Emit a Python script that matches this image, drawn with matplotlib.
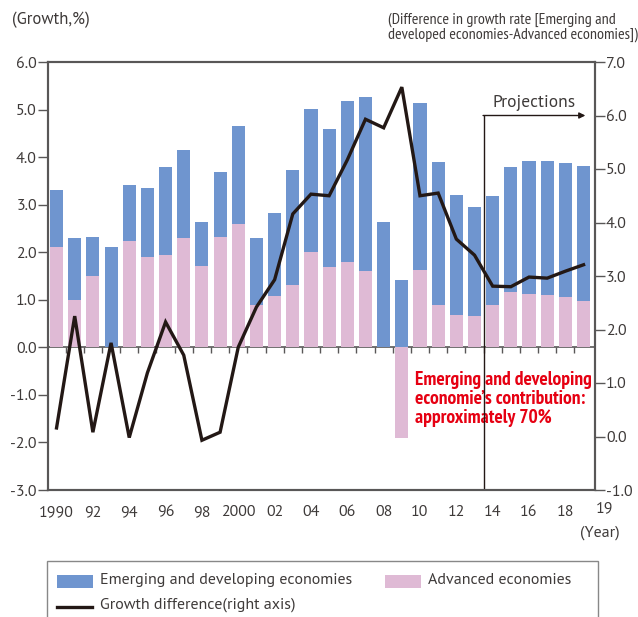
import numpy as np
import matplotlib
matplotlib.use("Agg")
import matplotlib.pyplot as plt
from matplotlib.patches import Rectangle
from matplotlib.lines import Line2D
from matplotlib.ticker import FixedLocator, NullFormatter

plt.rcParams['font.family'] = ['PT Sans', 'DejaVu Sans']

# contribution to world growth (%), left axis
years = list(range(1990, 2020))
advanced = [2.12, 0.99, 1.49, 0.0, 2.23, 1.89, 1.95, 2.29, 1.70, 2.31,
            2.60, 0.88, 1.07, 1.32, 2.00, 1.68, 1.79, 1.60, 0.0, -1.91,
            1.62, 0.90, 0.69, 0.65, 0.88, 1.16, 1.13, 1.11, 1.05, 0.97]
emerging = [1.18, 1.30, 0.84, 2.12, 1.19, 1.45, 1.85, 1.85, 0.93, 1.37,
            2.06, 1.41, 1.75, 2.40, 3.02, 2.92, 3.40, 3.67, 2.63, 1.41,
            3.51, 2.99, 2.52, 2.31, 2.31, 2.64, 2.78, 2.80, 2.82, 2.85]
# growth difference (right axis)
diff = [0.16, 2.25, 0.08, 1.75, -0.02, 1.19, 2.14, 1.52, -0.07, 0.08,
        1.67, 2.42, 2.93, 4.16, 4.53, 4.50, 5.17, 5.93, 5.77, 6.53,
        4.50, 4.55, 3.69, 3.39, 2.81, 2.80, 2.98, 2.96, 3.09, 3.21]

xlabels = ['1990', '92', '94', '96', '98', '2000', '02', '04', '06', '08',
           '10', '12', '14', '16', '18']
proj_start = 2014

BLUE = '#6f95cf'
PINK = '#dfbad5'
AXC = '#595757'
TXT = '#3e3a39'
RED = '#e60012'
NARROW = ['PT Sans Narrow', 'Roboto Condensed', 'DejaVu Sans']
FS = 11.5

W, H = 638, 617
fig = plt.figure(figsize=(W / 100, H / 100), dpi=100)


def px(x, y):
    return x / W, 1 - y / H


ax = fig.add_axes([48 / W, (H - 490) / H, 547 / W, 428 / H])
ax2 = ax.twinx()

bottoms = np.maximum(np.array(advanced), 0)
ax.bar(years, advanced, width=0.72, color=PINK, zorder=2)
ax.bar(years, emerging, bottom=bottoms, width=0.72, color=BLUE, zorder=2)

ax.set_xlim(1989.53, 2019.63)
ax.set_ylim(-3, 6)
ax.set_yticks(np.arange(-3, 6.1, 1))
ax.set_yticklabels(['%.1f' % v for v in np.arange(-3, 6.1, 1)])
ax.set_xticks(years[::2])
ax.set_xticklabels(xlabels)
ax.tick_params(axis='x', length=0, pad=11, labelsize=FS, colors=TXT)
ax.tick_params(axis='y', length=7, width=1, pad=1, labelsize=FS,
               colors=AXC, labelcolor=TXT, direction='out')
ax.text(2020.15, -0.026, '19', transform=ax.get_xaxis_transform(),
        ha='center', va='top', fontsize=FS, color=TXT)
ax.text(2019.9, -0.083, '(Year)', transform=ax.get_xaxis_transform(),
        ha='center', va='top', fontsize=FS, color=TXT)

# zero line with bar-boundary ticks
zero = ax.secondary_xaxis((0 - (-3)) / 9)
zero.xaxis.set_major_locator(FixedLocator([y + 0.5 for y in years[:-1]]))
zero.xaxis.set_major_formatter(NullFormatter())
zero.tick_params(axis='x', length=4, width=1, colors=AXC, direction='out')
zero.spines['bottom'].set_color(AXC)
zero.spines['bottom'].set_linewidth(1.2)

for a in (ax, ax2):
    for s in a.spines.values():
        s.set_color(AXC)
        s.set_linewidth(1.5)

ax2.plot(years, diff, color='#231815', lw=2.4, zorder=5,
         solid_joinstyle='miter')
ax2.set_ylim(-1, 7)
ax2.set_yticks(np.arange(-1, 7.1, 1))
ax2.set_yticklabels(['%.1f' % v for v in np.arange(-1, 7.1, 1)])
ax2.tick_params(axis='y', length=7, width=1, pad=1, labelsize=FS,
                colors=AXC, labelcolor=TXT, direction='out')

# projections marker
xp = proj_start - 0.5
ax2.plot([xp, xp], [-1, 6.0], color='#231815', lw=1)
ax2.annotate('', xy=(2019.1, 6.0), xytext=(xp - 0.03, 6.0),
             arrowprops=dict(arrowstyle='-|>', color='#231815', lw=1,
                             mutation_scale=9, shrinkA=0, shrinkB=0))
ax2.text(2016.3, 6.23, 'Projections', ha='center', va='center',
         fontsize=12.5, color=TXT)

ax.text(2009.72, -0.5, 'Emerging and developing\neconomie\u2019s contribution:\napproximately 70%',
        ha='left', va='top', fontsize=14, color=RED, fontweight='bold',
        family=NARROW, linespacing=1.08, zorder=6)

fig.text(*px(12, 20), '(Growth,%)', ha='left', va='center', fontsize=FS + 0.5,
         color=TXT)
fig.text(*px(388, 27), '(Difference in growth rate [Emerging and\ndeveloped economies-Advanced economies])',
         ha='left', va='center', fontsize=11.5, color=TXT, family=NARROW,
         linespacing=1.08)

# legend box
x0, y0 = px(47, 561)
fig.patches.append(Rectangle((x0, y0 - 0.2), 551 / W, 0.2, transform=fig.transFigure,
                             fill=False, edgecolor='#888888', lw=1))
for xl, col, label in [(57, BLUE, 'Emerging and developing economies'),
                       (385, PINK, 'Advanced economies')]:
    bx, by = px(xl, 588)
    fig.patches.append(Rectangle((bx, by), 36 / W, 13 / H, transform=fig.transFigure,
                                 facecolor=col, edgecolor='none'))
    fig.text(*px(xl + 43, 580), label, ha='left', va='center', fontsize=FS,
             color=TXT)
lx0, ly = px(57, 607)
lx1, _ = px(92, 607)
fig.lines.append(Line2D([lx0, lx1], [ly, ly], transform=fig.transFigure,
                        color='#231815', lw=2.4))
fig.text(*px(100, 605), 'Growth difference(right axis)', ha='left',
         va='center', fontsize=FS, color=TXT)

fig.savefig('out.png', dpi=100)
